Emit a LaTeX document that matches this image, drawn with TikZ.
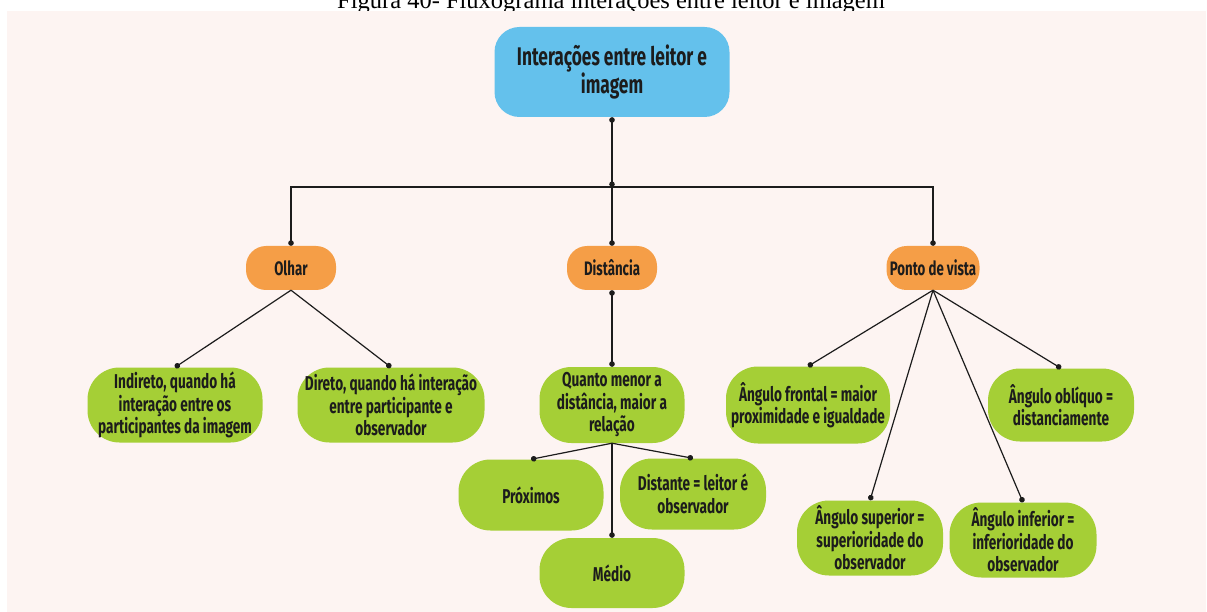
\documentclass[tikz,border=0pt]{standalone}
\usepackage{fontspec}
\setmainfont{Liberation Serif}
\newfontfamily\flowfont{Fira Sans}[FakeStretch=0.68]
\usetikzlibrary{positioning,arrows.meta}

\definecolor{bgpink}{HTML}{FDF4F2}
\definecolor{rootblue}{HTML}{64C1EC}
\definecolor{catorange}{HTML}{F59E47}
\definecolor{leafgreen}{HTML}{A5CF36}
\definecolor{inkdark}{HTML}{1C1C1C}

\tikzset{
	rootbox/.style={rectangle, rounded corners=25pt, fill=rootblue, minimum width=235pt, minimum height=90pt, inner sep=2pt, align=center, text=inkdark, font=\flowfont\bfseries\fontsize{25.5}{28}\selectfont},
	catbox/.style={rectangle, rounded corners=20pt, fill=catorange, minimum width=90pt, minimum height=44pt, inner sep=2pt, align=center, text=inkdark, font=\flowfont\bfseries\fontsize{19.5}{22}\selectfont},
	leafbox/.style={rectangle, rounded corners=32pt, fill=leafgreen, minimum width=146pt, minimum height=74pt, inner sep=2pt, align=center, text=inkdark, font=\flowfont\bfseries\fontsize{20}{22.5}\selectfont},
	link/.style={draw=inkdark, line width=1.2pt, -{Circle[length=5.5pt]}},
	linkboth/.style={draw=inkdark, line width=1.2pt, {Circle[length=5.5pt]}-{Circle[length=5.5pt]}}
}

\begin{document}
\begin{tikzpicture}[x=1pt, y=-1pt]
	\useasboundingbox (0,0) rectangle (1207,612);
	
	% Caption, cut off at the top as in the page
	\node[anchor=base, inner sep=0pt, text=black, font=\fontsize{24.5}{28}\selectfont] (caption) at (611,8.5) {Figura 40- Fluxograma interações entre leitor e imagem};
	
	% Background
	\fill[bgpink] (7,11) rectangle (1206,612);
	
	% Root and the three categories
	\node[rootbox] (root) at (612,72) {Interações entre leitor e\\imagem};
	\node[catbox] (olhar) at (291,268) {Olhar};
	\node[catbox] (distancia) at (612,268) {Distância};
	\node[catbox, minimum width=93pt] (ponto) at (933,268) {Ponto de vista};
	
	\coordinate (split) at (612,187);
	\draw[linkboth] (root.south) -- (split);
	\draw[link] (split) -| (olhar.north);
	\draw[link] (split) -- (distancia.north);
	\draw[link] (split) -| (ponto.north);
	
	% Olhar
	\node[leafbox, minimum width=175pt, minimum height=75pt] (indireto) at (175,405) {Indireto, quando há\\interação entre os\\participantes da imagem};
	\node[leafbox, minimum width=187pt, minimum height=75pt] (direto) at (391,405) {Direto, quando há interação\\entre participante e\\observador};
	\draw[link] (olhar.south) -- (indireto.north);
	\draw[link] (olhar.south) -- (direto.north);
	
	% Distancia
	\node[leafbox, minimum width=145pt, minimum height=76pt] (quanto) at (612,405) {Quanto menor a\\distância, maior a\\relação};
	\node[leafbox, minimum width=145pt, minimum height=71pt] (proximos) at (531,495) {Próximos};
	\node[leafbox, minimum width=146pt, minimum height=71pt] (distante) at (693,494) {Distante = leitor é\\observador};
	\node[leafbox, minimum width=145pt, minimum height=70pt] (medio) at (612,573) {Médio};
	\draw[linkboth] (distancia.south) -- (quanto.north);
	\foreach \kid in {proximos,distante,medio}
		\draw[link] (quanto.south) -- (\kid.north);
	
	% Ponto de vista
	\node[leafbox, minimum width=164pt, minimum height=77pt] (frontal) at (808,405) {Ângulo frontal = maior\\proximidade e igualdade};
	\node[leafbox, minimum width=146pt, minimum height=73pt] (obliquo) at (1061,405) {Ângulo oblíquo =\\distanciamente};
	\node[leafbox, minimum width=146pt, minimum height=75pt] (superior) at (870,538) {Ângulo superior =\\superioridade do\\observador};
	\node[leafbox, minimum width=147pt, minimum height=75pt] (inferior) at (1023,540) {Ângulo inferior =\\inferioridade do\\observador};
	\foreach \kid in {frontal,obliquo,superior,inferior}
		\draw[link] (ponto.south) -- (\kid.north);
\end{tikzpicture}
\end{document}
